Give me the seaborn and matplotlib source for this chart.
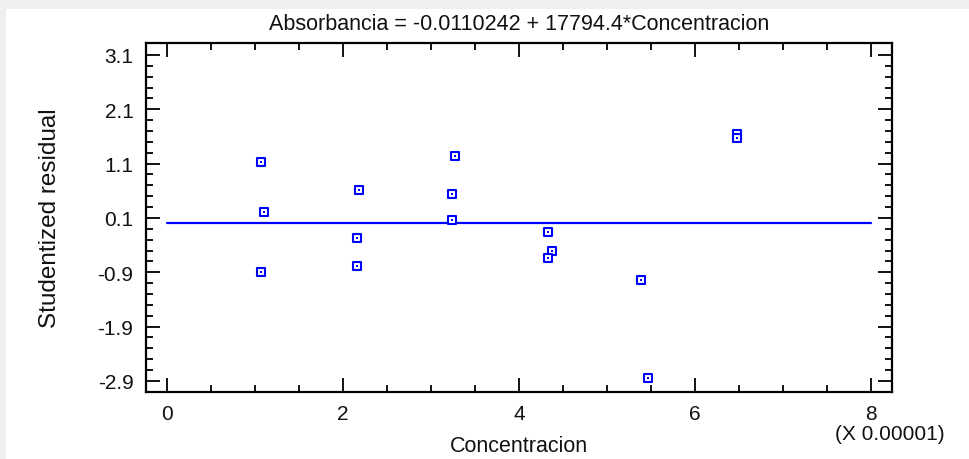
import matplotlib
matplotlib.use("Agg")
import matplotlib.pyplot as plt
import seaborn as sns
import pandas as pd
from matplotlib.ticker import MultipleLocator, FixedLocator
from matplotlib.patches import Rectangle

# Data (Concentracion in units of 1e-5)
concentracion = [1.07, 1.10, 1.07, 2.18, 2.16, 2.16, 3.27, 3.24, 3.24,
                 4.33, 4.38, 4.33, 5.39, 5.47, 6.48, 6.48]
residual = [1.13, 0.21, -0.90, 0.61, -0.27, -0.79, 1.24, 0.54, 0.06,
            -0.16, -0.50, -0.64, -1.05, -2.85, 1.65, 1.57]
line_x = [0, 8]
line_y = [0, 0]
y_ticks = [3.1, 2.1, 1.1, 0.1, -0.9, -1.9, -2.9]
x_ticks = [0, 2, 4, 6, 8]
title = "Absorbancia = -0.0110242 + 17794.4*Concentracion"

sns.set_theme(style="white")
plt.rcParams['font.family'] = ['Liberation Sans', 'DejaVu Sans']

df = pd.DataFrame({"Concentracion": concentracion, "Residual": residual})
ldf = pd.DataFrame({"x": line_x, "y": line_y})

fig = plt.figure(figsize=(9.7, 4.6), dpi=100, facecolor="#efefef")
bg = Rectangle((6 / 970, 0), 1, 1 - 10 / 460, transform=fig.transFigure,
               facecolor="white", edgecolor="none", zorder=-10)
fig.add_artist(bg)
ax = fig.add_axes([146 / 970, 1 - 393 / 460, (892 - 146) / 970, (393 - 44) / 460])
ax.set_zorder(5)
ax.set_facecolor("white")

blue = "#0000ff"
sns.lineplot(data=ldf, x="x", y="y", ax=ax, color=blue, linewidth=1.6, zorder=2)
sns.scatterplot(data=df, x="Concentracion", y="Residual", ax=ax, marker="s",
                s=32, facecolor="white", edgecolor=blue, linewidth=1.5, zorder=3)
sns.scatterplot(data=df, x="Concentracion", y="Residual", ax=ax, marker="s",
                s=1.2, color=blue, linewidth=0, zorder=4)

ax.set_xlim(-0.24, 8.24)
ax.set_ylim(-3.104, 3.32)
ax.xaxis.set_major_locator(FixedLocator(x_ticks))
ax.xaxis.set_minor_locator(MultipleLocator(0.5))
ax.yaxis.set_major_locator(FixedLocator(y_ticks))
ax.yaxis.set_minor_locator(FixedLocator([v / 10 for v in range(-31, 33, 2)]))
ax.set_yticklabels([f"{v:.1f}" for v in y_ticks])
ax.set_xticklabels([str(v) for v in x_ticks])

ax.tick_params(which="both", direction="in", top=True, right=True, bottom=True, left=True,
               color="black", width=1.3)
ax.tick_params(which="major", length=10, labelsize=15, pad=9, labelcolor="#111111")
ax.tick_params(which="minor", length=5)
for s in ax.spines.values():
    s.set_visible(True)
    s.set_color("black")
    s.set_linewidth(1.6)

ax.set_xlabel("Concentracion", fontsize=15.5, color="#111111", labelpad=8)
ax.set_ylabel("Studentized residual", fontsize=17.5, color="#111111", labelpad=26)
ax.set_title(title, fontsize=15.5, color="#111111", pad=10)
fig.text(890 / 970, 1 - 435 / 460, "(X 0.00001)", fontsize=15, color="#111111",
         ha="center", va="center")

fig.savefig("out.png", dpi=100, facecolor=fig.get_facecolor())
